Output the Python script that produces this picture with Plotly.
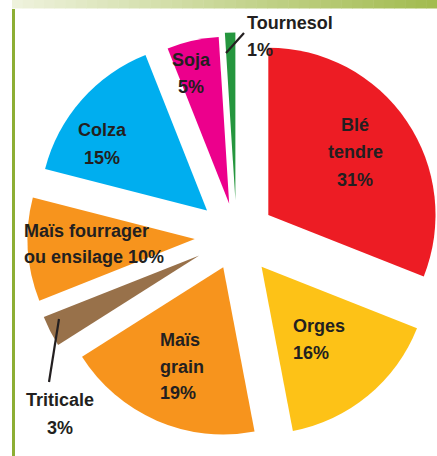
import plotly.graph_objects as go

# ---- data ----
labels = ["Blé tendre", "Orges", "Maïs grain", "Triticale",
          "Maïs fourrager ou ensilage", "Colza", "Soja", "Tournesol"]
values = [31, 16, 19, 3, 10, 15, 5, 1]
colors = ["#ED1C24", "#FDC217", "#F7941D", "#98714A",
          "#F7941D", "#00AEEF", "#EC008C", "#25963E"]
pulls = [0.23, 0.235, 0.20, 0.25, 0.25, 0.235, 0.20, 0.22]

# label lines (text before the percentage), percentage appended on the last line
label_lines = {
    "Blé tendre": [["Blé"], ["tendre"], []],
    "Orges": [["Orges"], []],
    "Maïs grain": [["Maïs"], ["grain"], []],
    "Triticale": [["Triticale"], []],
    "Maïs fourrager ou ensilage": [["Maïs fourrager"], ["ou ensilage"]],
    "Colza": [["Colza"], []],
    "Soja": [["Soja"], []],
    "Tournesol": [["Tournesol"], []],
}
# layout of text blocks: (x px, first line y px, line step px, xanchor)
text_pos = {
    "Blé tendre": (355, 125, 27.5, "center"),
    "Orges": (291, 326, 27, "left"),
    "Maïs grain": (158, 340, 26.5, "left"),
    "Triticale": (60, 400, 28, "center"),
    "Maïs fourrager ou ensilage": (22, 231, 26, "left"),
    "Colza": (102, 130, 28, "center"),
    "Soja": (191, 60, 27, "center"),
    "Tournesol": (245, 23, 27, "left"),
}

VIEW_W = 437            # visible window width
W, H = 460, 456         # figure slightly wider than the window: pie is clipped on the right
CX, CY, HALF = 236.5, 236.5, 209   # pie domain centre and half size (px)

fig = go.Figure()
fig.add_trace(go.Pie(
    labels=labels, values=values, sort=False, direction="clockwise",
    rotation=0, pull=pulls, textinfo="none", hoverinfo="label+percent",
    marker=dict(colors=colors, line=dict(width=0)), showlegend=False,
    domain=dict(x=[(CX - HALF) / W, (CX + HALF) / W],
                y=[1 - (CY + HALF) / H, 1 - (CY - HALF) / H]),
))

ann = []
for lab, val in zip(labels, values):
    x, y0, step, anchor = text_pos[lab]
    lines = label_lines[lab]
    for i, parts in enumerate(lines):
        txt = " ".join(parts)
        if i == len(lines) - 1:
            txt = (txt + " " if txt else "") + f"{val}%"
        ann.append(dict(
            x=x / W, y=1 - (y0 + i * step) / H, xref="paper", yref="paper",
            text=f"<b>{txt}</b>", showarrow=False, xanchor=anchor, yanchor="middle",
            font=dict(family="Liberation Sans, Arial, sans-serif", size=18, color="#231F20"),
        ))

shapes = []
# top gradient bar
n = 40
c0 = (238, 242, 220)
c1 = (163, 188, 80)
x_start = 12
for k in range(n):
    t = k / (n - 1)
    col = tuple(int(c0[j] + (c1[j] - c0[j]) * t) for j in range(3))
    xa = x_start + (VIEW_W - x_start) * k / n
    xb = x_start + (VIEW_W - x_start) * (k + 1) / n + 0.5
    if k == n - 1:
        xb = W
    shapes.append(dict(type="rect", xref="paper", yref="paper",
                       x0=xa / W, x1=xb / W, y0=1 - 8.5 / H, y1=1,
                       fillcolor=f"rgb{col}", line=dict(width=0), layer="below"))
# left green rule
shapes.append(dict(type="line", xref="paper", yref="paper",
                   x0=13.5 / W, x1=13.5 / W, y0=0, y1=1 - 9 / H,
                   line=dict(color="#8DAE34", width=3)))
# leader lines
for (xa, ya, xb, yb) in [(226, 53, 244, 33), (59, 319, 49, 382)]:
    shapes.append(dict(type="line", xref="paper", yref="paper",
                       x0=xa / W, y0=1 - ya / H, x1=xb / W, y1=1 - yb / H,
                       line=dict(color="#231F20", width=2.2)))

fig.update_layout(
    width=W, height=H, margin=dict(l=0, r=0, t=0, b=0),
    paper_bgcolor="white", plot_bgcolor="white",
    annotations=ann, shapes=shapes,
)
fig.write_html(
    "out.html",
    config={"displayModeBar": False},
    post_script="document.body.style.margin='0';document.body.style.overflow='hidden';",
)
